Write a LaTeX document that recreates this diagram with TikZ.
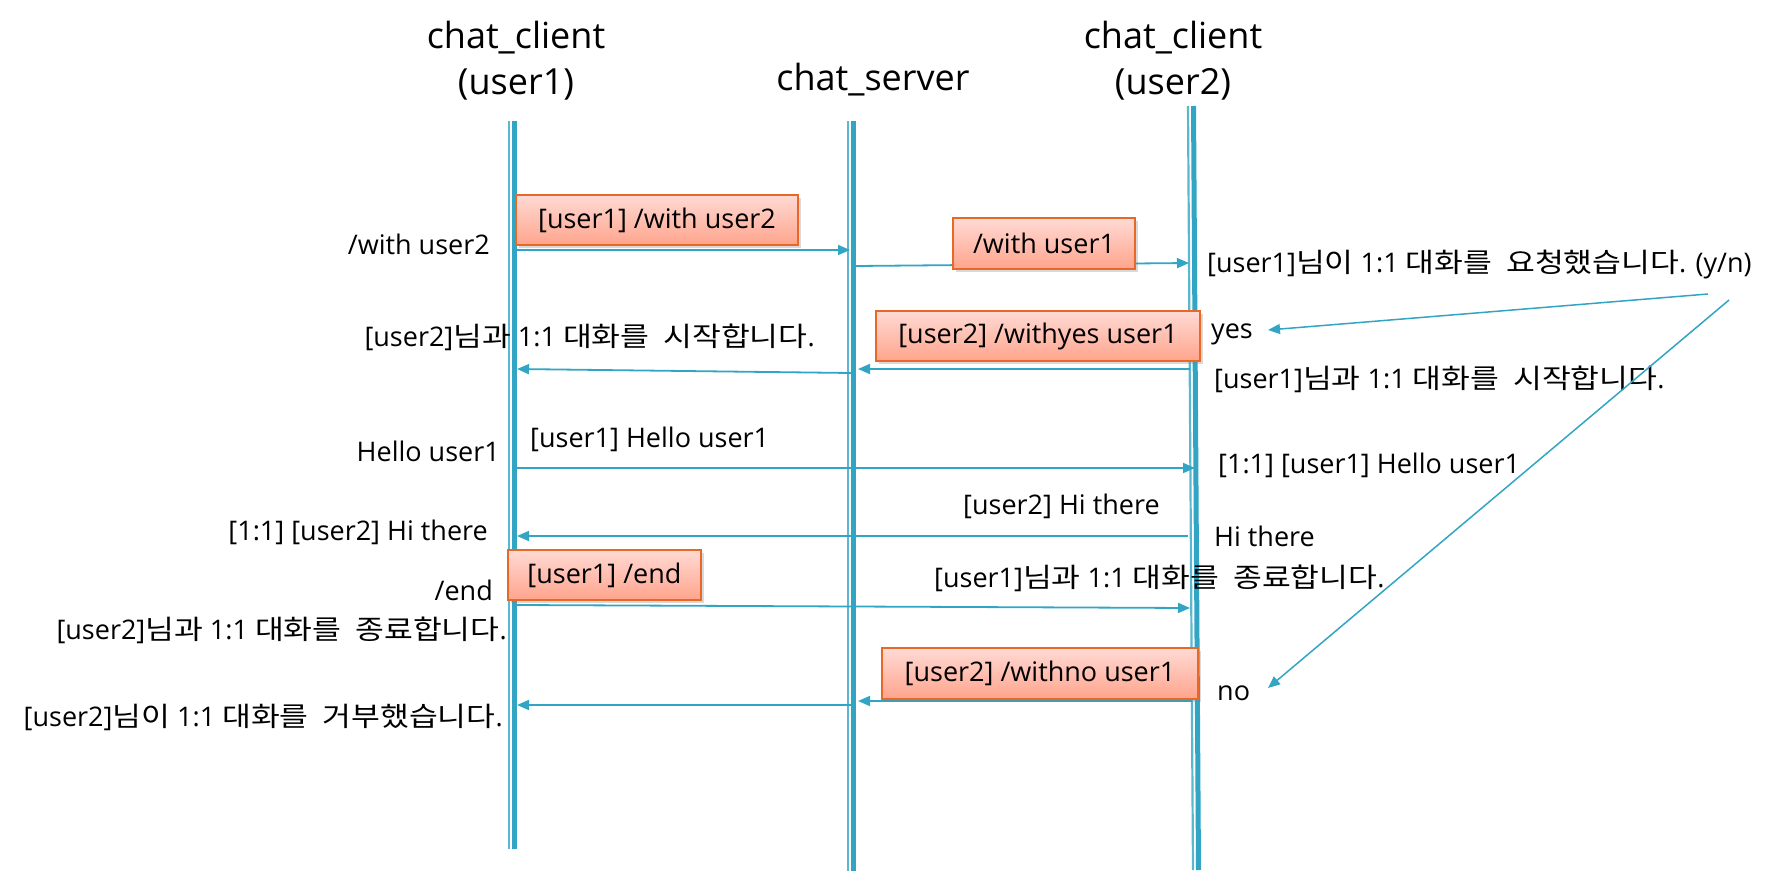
\documentclass[tikz,border=0pt]{standalone}
\usepackage{fontspec}
\setmainfont{Open Sans}
\newfontfamily\kr{Noto Sans CJK KR}[Scale=1.0, FakeStretch=1.16, WordSpace=2]
\usetikzlibrary{arrows.meta,shadows}

\begin{document}
\begin{tikzpicture}[x=1pt,y=-1pt,
    msg/.style={draw=lineblue, line width=1.8pt, -{Triangle[length=12pt,width=10pt]}},
    lifethick/.style={draw=lineblue, line width=5pt},
    lifethin/.style={draw=lineblue!80, line width=2.2pt},
    cmdbox/.style={draw=boxborder, line width=2pt, top color=boxtop, bottom color=boxbottom,
        inner sep=0pt, drop shadow={shadow xshift=3pt,shadow yshift=-3pt,opacity=0.3},
        font=\fontsize{27}{32}\selectfont},
    txt/.style={inner sep=0pt, font=\fontsize{27}{32}\selectfont},
    title/.style={inner sep=0pt, align=center, font=\fontsize{36}{46}\selectfont}]

    % Define colors
    \definecolor{lineblue}{RGB}{49,165,195}
    \definecolor{boxtop}{RGB}{255,218,212}
    \definecolor{boxbottom}{RGB}{255,164,140}
    \definecolor{boxborder}{RGB}{232,104,40}

    \useasboundingbox (0,0) rectangle (1780,891);

    % Titles
    \node[title] (client1) at (516,61) {chat\_client\\(user1)};
    \node[title] (server) at (873,80) {chat\_server};
    \node[title] (client2) at (1173,61) {chat\_client\\(user2)};

    %-------------
    % Lifelines
    \coordinate (c1top) at (514.5,121);
    \coordinate (c1bot) at (514.5,849);
    \coordinate (srvtop) at (853.5,121);
    \coordinate (srvbot) at (853.5,871);
    \coordinate (c2top) at (1193.5,106);
    \coordinate (c2bot) at (1198.5,870);

    \draw[lifethin] ([xshift=-5.5pt]c1top) -- ([xshift=-5.5pt]c1bot);
    \draw[lifethick] (c1top) -- (c1bot);
    \draw[lifethin] ([xshift=-5.5pt]srvtop) -- ([xshift=-5.5pt]srvbot);
    \draw[lifethick] (srvtop) -- (srvbot);
    \draw[lifethin] ([xshift=-5.5pt]c2top) -- ([xshift=-5.5pt]c2bot);
    \draw[lifethick] (c2top) -- (c2bot);

    %-------------
    % /with
    \coordinate (w1a) at (517,250);
    \coordinate (w1b) at (850,250);
    \coordinate (w2a) at (856,266);
    \coordinate (w2b) at (1189,263);
    \draw[msg] (w1a) -- (w1b);
    \draw[msg] (w2a) -- (w2b);
    \node[txt, anchor=east] (withcmd) at (490,244) {/with user2};
    \node[cmdbox, minimum width=282pt, minimum height=50pt] (withbox) at (657,220) {[user1] /with user2};
    \node[cmdbox, minimum width=182pt, minimum height=51pt] (fwdbox) at (1044,243.5) {/with user1};
    \node[txt, anchor=west] (ask) at (1207,265) {[user1]{\kr 님이} 1:1 {\kr 대화를 요청했습니다}. (y/n)};

    %-------------
    % yes
    \coordinate (y1a) at (1190,369);
    \coordinate (y1b) at (858,369);
    \coordinate (y2a) at (851,373);
    \coordinate (y2b) at (517,369);
    \draw[msg] (y1a) -- (y1b);
    \draw[msg] (y2a) -- (y2b);
    \node[cmdbox, minimum width=324pt, minimum height=50pt] (yesbox) at (1038,336) {[user2] /withyes user1};
    \node[txt, anchor=east] (start1) at (815,337) {[user2]{\kr 님과} 1:1 {\kr 대화를 시작합니다}.};
    \node[txt, anchor=west] (yes) at (1211,334) {yes};
    \node[txt, anchor=west] (start2) at (1214,379) {[user1]{\kr 님과} 1:1 {\kr 대화를 시작합니다}.};

    % answers
    \coordinate (yn1) at (1708,294);
    \coordinate (yestip) at (1268,330);
    \coordinate (yn2) at (1729,300);
    \coordinate (notip) at (1268,688);
    \draw[msg, line width=1.5pt] (yn1) -- (yestip);
    \draw[msg, line width=1.5pt] (yn2) -- (notip);

    %-------------
    % Hello / Hi
    \coordinate (h1a) at (517,468);
    \coordinate (h1b) at (1195,468);
    \draw[msg] (h1a) -- (h1b);
    \node[txt, anchor=east] (hello) at (500,451) {Hello user1};
    \node[txt, anchor=west] (hellosent) at (530,439) {[user1] Hello user1};
    \node[txt, anchor=west] (hellorecv) at (1218,465) {[1:1] [user1] Hello user1};

    \coordinate (h2a) at (1188,536);
    \coordinate (h2b) at (517,536);
    \draw[msg] (h2a) -- (h2b);
    \node[txt, anchor=west] (hisent) at (963,506) {[user2] Hi there};
    \node[txt, anchor=east] (hirecv) at (488,532) {[1:1] [user2] Hi there};
    \node[txt, anchor=west] (hi) at (1214,536) {Hi there};

    %-------------
    % /end
    \coordinate (e1a) at (517,605);
    \coordinate (e1b) at (1190,608);
    \draw[msg] (e1a) -- (e1b);
    \node[txt, anchor=east] (endcmd) at (493,590) {/end};
    \node[cmdbox, minimum width=193pt, minimum height=50pt] (endbox) at (604.5,575) {[user1] /end};
    \node[txt, anchor=east] (end1) at (507,630) {[user2]{\kr 님과} 1:1 {\kr 대화를 종료합니다}.};
    \node[txt, anchor=west] (end2) at (934,578) {[user1]{\kr 님과} 1:1 {\kr 대화를 종료합니다}.};

    %-------------
    % no
    \coordinate (n1a) at (1192,701);
    \coordinate (n1b) at (858,701);
    \coordinate (n2a) at (851,705);
    \coordinate (n2b) at (517,705);
    \draw[msg] (n1a) -- (n1b);
    \draw[msg] (n2a) -- (n2b);
    \node[cmdbox, minimum width=316pt, minimum height=51pt] (nobox) at (1040,673.5) {[user2] /withno user1};
    \node[txt, anchor=west] (no) at (1217,693) {no};
    \node[txt, anchor=east] (refuse) at (503,717) {[user2]{\kr 님이} 1:1 {\kr 대화를 거부했습니다}.};

\end{tikzpicture}
\end{document}
